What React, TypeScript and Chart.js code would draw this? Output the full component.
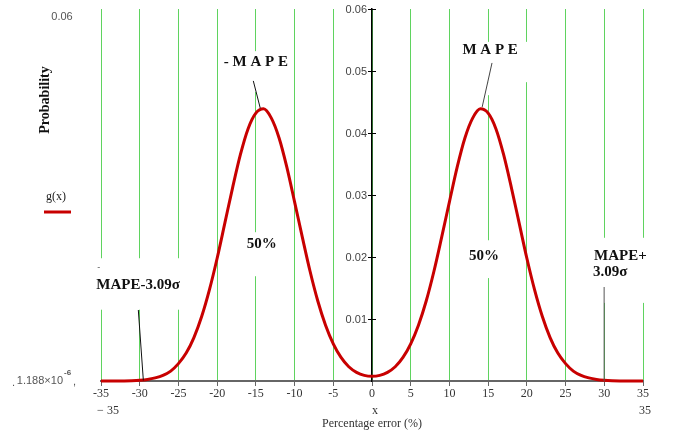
import React, { useEffect, useRef } from 'react';
import { Chart, registerables } from 'chart.js';

Chart.register(...registerables);

// ---- data ----
const xValues = [
  -35, -34, -33, -32, -31, -30, -29, -28, -27, -26, -25, -24, -23, -22, -21, -20, -19, -18,
  -17, -16, -15, -14, -13, -12, -11, -10, -9, -8, -7, -6, -5, -4, -3, -2, -1,
  0, 1, 2, 3, 4, 5, 6, 7, 8, 9, 10, 11, 12, 13, 14, 15, 16, 17, 18, 19, 20, 21, 22, 23,
  24, 25, 26, 27, 28, 29, 30, 31, 32, 33, 34, 35,
];
const gValues = [
  0, 0, 0.00001, 0.00002, 0.00005, 0.00012, 0.00025, 0.0005, 0.0009, 0.0016, 0.0028, 0.0045,
  0.007, 0.0104, 0.0147, 0.0198, 0.0255, 0.0312, 0.0365, 0.0407, 0.0432, 0.0439, 0.0424,
  0.0392, 0.0345, 0.0289, 0.0232, 0.0177, 0.0129, 0.009, 0.006, 0.0038, 0.0023, 0.0014, 0.0009,
  0.00075,
  0.0009, 0.0014, 0.0023, 0.0038, 0.006, 0.009, 0.0129, 0.0177, 0.0232, 0.0289, 0.0345, 0.0392,
  0.0424, 0.0439, 0.0432, 0.0407, 0.0365, 0.0312, 0.0255, 0.0198, 0.0147, 0.0104, 0.007, 0.0045,
  0.0028, 0.0016, 0.0009, 0.0005, 0.00025, 0.00012, 0.00005, 0.00002, 0.00001, 0, 0,
];
const xRange = [-35, 35];
const xTickStep = 5;
const yRange = [0, 0.06];
const yTickStep = 0.01;
const yMaxLabel = '0.06';
const yMinLabel = '1.188×10';
const yMinLabelExp = '-6';
const xMinLabel = '− 35';
const xMaxLabel = '35';
const xVarLabel = 'x';
const xTitle = 'Percentage error (%)';
const yTitle = 'Probability';
const seriesName = 'g(x)';

// annotations (data coordinates)
const annotLabels = [
  { text: '- M A P E', x: -15.0, y: 0.0515, align: 'center' },
  { text: 'M A P E', x: 15.26, y: 0.0533, align: 'center' },
  { text: '50%', x: -14.24, y: 0.022, align: 'center' },
  { text: '50%', x: 14.48, y: 0.0202, align: 'center' },
  { text: 'MAPE-3.09σ', x: -35.6, y: 0.0154, align: 'left' },
  { text: 'MAPE+', x: 28.68, y: 0.0202, align: 'left' },
  { text: '3.09σ', x: 28.55, y: 0.0176, align: 'left' },
];
const annotDash = { text: '-', x: -35.47, y: 0.0183 };
const annotPointers = [
  { x1: -15.33, y1: 0.0484, x2: -14.43, y2: 0.044, color: '#111' },
  { x1: 15.5, y1: 0.0513, x2: 14.23, y2: 0.0442, color: '#444' },
  { x1: -30.18, y1: 0.01145, x2: -29.53, y2: 0.0001, color: '#111' },
  { x1: 29.98, y1: 0.01516, x2: 29.98, y2: 0, color: '#555' },
];
const annotBoxes = [
  { x1: -19.6, x2: -10.3, y1: 0.0532, y2: 0.0466 },
  { x1: 11.1, x2: 20.4, y1: 0.0547, y2: 0.0482 },
  { x1: 14.5, x2: 15.8, y1: 0.0482, y2: 0.0461 },
  { x1: -17.0, x2: -11.6, y1: 0.024, y2: 0.0169 },
  { x1: 11.6, x2: 17.3, y1: 0.0227, y2: 0.0166 },
  { x1: -35.7, x2: -22.2, y1: 0.0198, y2: 0.0115 },
  { x1: 27.9, x2: 37.2, y1: 0.0231, y2: 0.0126 },
];

const SERIF = "'Liberation Serif', 'DejaVu Serif', serif";
const SANS = "'Liberation Sans', Arial, sans-serif";
const RED = '#c80000';

const annotPlugin = {
  id: 'annot',
  beforeDatasetsDraw(chart: any) {
    const { ctx, scales } = chart;
    const xs = scales.x, ys = scales.y;
    ctx.save();
    ctx.fillStyle = '#ffffff';
    for (const b of annotBoxes) {
      const a1 = xs.getPixelForValue(b.x1), a2 = xs.getPixelForValue(b.x2);
      const b1 = ys.getPixelForValue(b.y1), b2 = ys.getPixelForValue(b.y2);
      ctx.fillRect(Math.min(a1, a2), Math.min(b1, b2), Math.abs(a2 - a1), Math.abs(b2 - b1));
    }
    // y-axis ticks and labels at x = 0
    const x0 = Math.round(xs.getPixelForValue(0));
    ctx.strokeStyle = '#000';
    ctx.lineWidth = 1;
    ctx.fillStyle = '#444';
    ctx.font = `11px ${SANS}`;
    ctx.textAlign = 'right';
    ctx.textBaseline = 'middle';
    for (const t of ys.ticks) {
      const v = t.value;
      if (v === 0) continue;
      const py = Math.round(ys.getPixelForValue(v)) + 0.5;
      ctx.beginPath();
      ctx.moveTo(x0 - 4, py);
      ctx.lineTo(x0 + 4, py);
      ctx.stroke();
      ctx.fillText(v.toFixed(2), x0 - 5, py);
    }
    ctx.restore();
  },
  afterDatasetsDraw(chart: any) {
    const { ctx, scales } = chart;
    const xs = scales.x, ys = scales.y;
    ctx.save();
    ctx.lineWidth = 1;
    for (const p of annotPointers) {
      ctx.strokeStyle = p.color;
      ctx.beginPath();
      ctx.moveTo(xs.getPixelForValue(p.x1), ys.getPixelForValue(p.y1));
      ctx.lineTo(xs.getPixelForValue(p.x2), ys.getPixelForValue(p.y2));
      ctx.stroke();
    }
    ctx.fillStyle = '#111';
    ctx.font = `bold 15px ${SERIF}`;
    ctx.textBaseline = 'middle';
    for (const l of annotLabels) {
      ctx.textAlign = l.align as CanvasTextAlign;
      ctx.fillText(l.text, xs.getPixelForValue(l.x), ys.getPixelForValue(l.y));
    }
    ctx.font = `9px ${SANS}`;
    ctx.textAlign = 'left';
    ctx.fillStyle = '#555';
    ctx.fillText(annotDash.text, xs.getPixelForValue(annotDash.x), ys.getPixelForValue(annotDash.y));
    ctx.restore();
  },
  afterDraw(chart: any) {
    const { ctx } = chart;
    ctx.save();
    // y title
    ctx.fillStyle = '#111';
    ctx.font = `bold 14px ${SERIF}`;
    ctx.textAlign = 'center';
    ctx.textBaseline = 'middle';
    ctx.translate(45, 100);
    ctx.rotate(-Math.PI / 2);
    ctx.fillText(yTitle, 0, 0);
    ctx.setTransform(1, 0, 0, 1, 0, 0);
    // range labels
    ctx.fillStyle = '#555';
    ctx.font = `11px ${SANS}`;
    ctx.fillText(yMaxLabel, 62, 17);
    ctx.textAlign = 'right';
    ctx.textBaseline = 'alphabetic';
    ctx.fillText(yMinLabel, 63, 384);
    ctx.textAlign = 'left';
    ctx.font = `bold 8px ${SANS}`;
    ctx.fillText(yMinLabelExp, 64, 375);
    ctx.font = `11px ${SANS}`;
    ctx.fillText('.', 12, 386);
    ctx.fillText(',', 73, 385);
    // legend
    ctx.fillStyle = '#222';
    ctx.font = `12px ${SERIF}`;
    ctx.textAlign = 'center';
    ctx.textBaseline = 'middle';
    ctx.fillText(seriesName, 56, 197);
    ctx.strokeStyle = RED;
    ctx.lineWidth = 3;
    ctx.beginPath();
    ctx.moveTo(44, 212);
    ctx.lineTo(71, 212);
    ctx.stroke();
    // bottom labels
    ctx.fillStyle = '#333';
    ctx.font = `12px ${SERIF}`;
    ctx.fillText(xMinLabel, 108, 411);
    ctx.fillText(xMaxLabel, 645, 411);
    ctx.fillText(xVarLabel, 375, 411);
    ctx.fillText(xTitle, 372, 424);
    ctx.restore();
  },
};

export default function App() {
  const ref = useRef<HTMLCanvasElement | null>(null);
  useEffect(() => {
    if (!ref.current) return;
    const chart = new Chart(ref.current, {
      type: 'line',
      data: {
        datasets: [
          {
            label: seriesName,
            data: xValues.map((x, i) => ({ x, y: gValues[i] })),
            borderColor: RED,
            borderWidth: 3,
            pointRadius: 0,
            cubicInterpolationMode: 'monotone',
            fill: false,
            clip: false as any,
          },
        ],
      },
      options: {
        animation: false,
        responsive: false,
        layout: { padding: { left: 101, right: 30, top: 9, bottom: 0 } },
        plugins: { legend: { display: false }, tooltip: { enabled: false } },
        scales: {
          x: {
            type: 'linear',
            min: xRange[0],
            max: xRange[1],
            afterFit: (s: any) => {
              s.height = 58;
            },
            ticks: {
              stepSize: xTickStep,
              autoSkip: false,
              maxRotation: 0,
              padding: 1,
              color: '#333',
              font: { family: SERIF, size: 12 },
              callback: (v: any) => String(v),
            },
            grid: {
              color: '#5fd35f',
              lineWidth: 1,
              tickColor: '#666',
              tickLength: 5,
            },
            border: { color: '#666', width: 2 },
          },
          y: {
            type: 'linear',
            position: { x: 0 } as any,
            min: yRange[0],
            max: yRange[1],
            ticks: {
              display: false,
              stepSize: yTickStep,
            },
            grid: {
              display: false,
            },
            border: { display: true, color: '#000', width: 1.5 },
          },
        },
      },
      plugins: [annotPlugin],
    });
    return () => chart.destroy();
  }, []);
  return (
    <div style={{ position: 'absolute', left: 0, top: 0, width: 673, height: 439, background: '#fff' }}>
      <canvas ref={ref} width={673} height={439} style={{ display: 'block' }} />
    </div>
  );
}
